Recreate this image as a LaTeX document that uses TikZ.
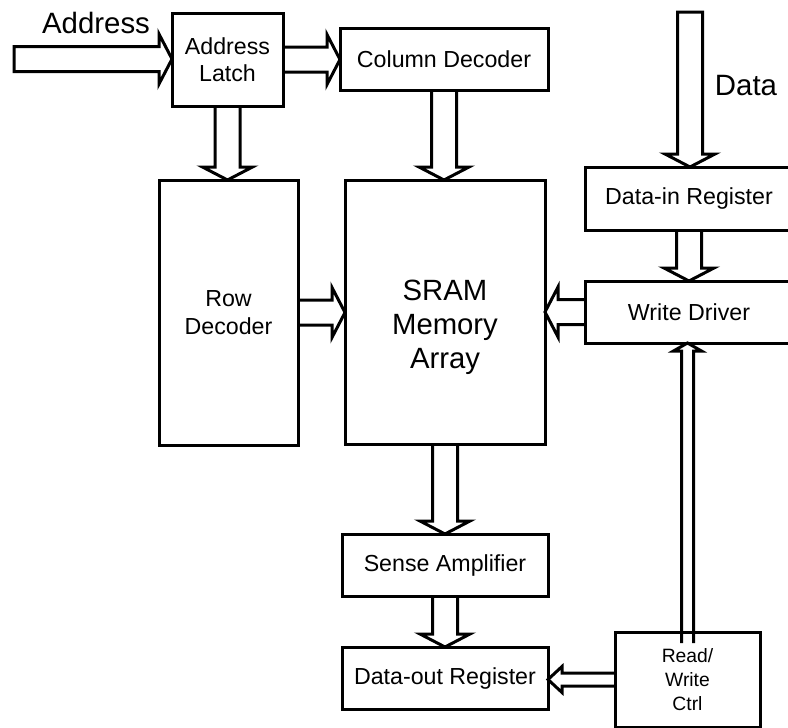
\documentclass[tikz,border=0pt]{standalone}
\usepackage{fontspec}
\setmainfont{Liberation Sans}
\usetikzlibrary{calc}

% Hollow block arrow from #1 (shaft start) to #2 (tip).
% #3 half shaft width, #4 half head width, #5 head length, #6 path suffix (e.g. "-- cycle").
\newcommand{\blockarr}[6]{%
  \coordinate (ba-back) at ($(#2)!#5!(#1)$);
  \draw[blockarrow]
    ($(#1)!#3!90:(#2)$) -- ($(ba-back)!#3!90:(#2)$) -- ($(ba-back)!#4!90:(#2)$)
    -- (#2)
    -- ($(ba-back)!#4!-90:(#2)$) -- ($(ba-back)!#3!-90:(#2)$) -- ($(#1)!#3!-90:(#2)$) #6;
}

\begin{document}
\begin{tikzpicture}[x=1pt,y=-1pt,
  box/.style={draw,line width=3pt,outer sep=0pt,inner sep=0pt,align=center,
    font=\fontsize{23.2}{27.5}\selectfont},
  bigtext/.style={align=center,font=\fontsize{29.3}{34}\selectfont},
  smalltext/.style={font=\fontsize{19.3}{24}\selectfont},
  labeltext/.style={anchor=base,inner sep=0pt,font=\fontsize{29.4}{34}\selectfont},
  blockarrow/.style={line width=3pt,line join=miter}]

\useasboundingbox (0,0) rectangle (788,728);

% blocks
\node[box,minimum width=111,minimum height=93] (latch) at (227.5,59.5) {Address\\Latch};
\node[box,minimum width=208,minimum height=62] (col) at (444,59) {Column Decoder};
\node[box,minimum width=139,minimum height=265] (row) at (228.5,312.5) {Row\\Decoder};
\node[box,minimum width=200,minimum height=264] (sram) at (445,312) {};
\node[bigtext] (sramtext) at (445,327) {SRAM\\Memory\\Array};
\node[box,minimum width=208,minimum height=63] (datain) at (689,198.5) {Data-in Register};
\node[box,minimum width=208,minimum height=62] (wd) at (689,312) {Write Driver};
\node[box,minimum width=206,minimum height=62] (sense) at (445,565) {Sense Amplifier};
\node[box,minimum width=206,minimum height=62] (dataout) at (445,678) {Data-out Register};
\node[box,smalltext,minimum width=145,minimum height=95] (rw) at (687.5,679.5) {Read/\\Write\\Ctrl};

% signal labels
\node[labeltext] (addrlabel) at (96,34) {Address};
\node[labeltext] (datalabel) at (746,95) {Data};

% address path
\coordinate (ain) at (14,59);
\coordinate (ainT) at (latch.west |- ain);
\blockarr{ain}{ainT}{12.5pt}{25pt}{13pt}{-- cycle}
\coordinate (lcT) at (col.west |- latch.east);
\blockarr{latch.east}{lcT}{12.5pt}{25pt}{13pt}{}
\coordinate (lrT) at (row.north -| latch.south);
\blockarr{latch.south}{lrT}{12.5pt}{25pt}{13pt}{}
\coordinate (csT) at (sram.north -| col.south);
\blockarr{col.south}{csT}{12.5pt}{25pt}{13pt}{}
\coordinate (rsT) at (sram.west |- row.east);
\blockarr{row.east}{rsT}{12.5pt}{25pt}{13pt}{}

% read path
\coordinate (ssT) at (sense.north -| sram.south);
\blockarr{sram.south}{ssT}{12.5pt}{25pt}{13pt}{}
\blockarr{sense.south}{dataout.north}{12.5pt}{25pt}{13pt}{}

% write path
\coordinate (din) at (690,12);
\coordinate (dinT) at (datain.north -| din);
\blockarr{din}{dinT}{12.5pt}{25pt}{13pt}{-- cycle}
\blockarr{datain.south}{wd.north}{12.5pt}{25pt}{13pt}{}
\coordinate (wsT) at (sram.east |- wd.west);
\blockarr{wd.west}{wsT}{12.5pt}{25pt}{13pt}{}

% control
\coordinate (rwin) at ($(rw.north)+(0,11)$);
\coordinate (rwT) at (wd.south -| rwin);
\blockarr{rwin}{rwT}{6pt}{14pt}{8pt}{}
\coordinate (rdT) at (dataout.east |- rw.west);
\blockarr{rw.west}{rdT}{6.5pt}{13pt}{14pt}{}

\end{tikzpicture}
\end{document}
